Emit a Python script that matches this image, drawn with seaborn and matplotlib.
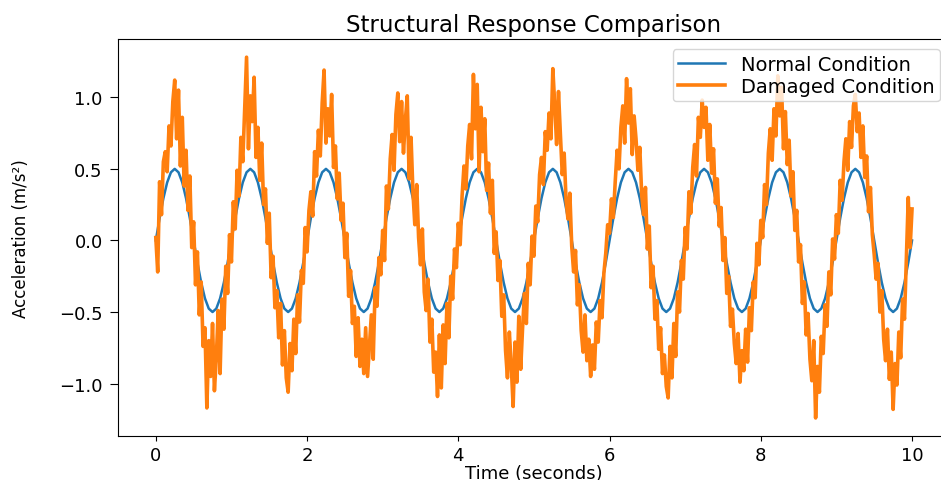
import numpy as np
import pandas as pd
import matplotlib
matplotlib.use("Agg")
import matplotlib.pyplot as plt
import seaborn as sns

# Normal condition, read every 0.05 s
normal_vals = [
    0.0, 0.155, 0.294, 0.405, 0.476, 0.5, 0.476, 0.405, 0.294, 0.155,
    0.0, -0.155, -0.294, -0.405, -0.476, -0.5, -0.476, -0.405, -0.294, -0.155,
    0.0, 0.155, 0.294, 0.405, 0.476, 0.5, 0.476, 0.405, 0.294, 0.155,
    0.0, -0.155, -0.294, -0.405, -0.476, -0.5, -0.476, -0.405, -0.294, -0.155,
    0.0, 0.155, 0.294, 0.405, 0.476, 0.5, 0.476, 0.405, 0.294, 0.155,
    0.0, -0.155, -0.294, -0.405, -0.476, -0.5, -0.476, -0.405, -0.294, -0.155,
    0.0, 0.155, 0.294, 0.405, 0.476, 0.5, 0.476, 0.405, 0.294, 0.155,
    0.0, -0.155, -0.294, -0.405, -0.476, -0.5, -0.476, -0.405, -0.294, -0.155,
    0.0, 0.155, 0.294, 0.405, 0.476, 0.5, 0.476, 0.405, 0.294, 0.155,
    0.0, -0.155, -0.294, -0.405, -0.476, -0.5, -0.476, -0.405, -0.294, -0.155,
    0.0, 0.155, 0.294, 0.405, 0.476, 0.5, 0.476, 0.405, 0.294, 0.155,
    0.0, -0.155, -0.294, -0.405, -0.476, -0.5, -0.476, -0.405, -0.294, -0.155,
    0.0, 0.155, 0.294, 0.405, 0.476, 0.5, 0.476, 0.405, 0.294, 0.155,
    0.0, -0.155, -0.294, -0.405, -0.476, -0.5, -0.476, -0.405, -0.294, -0.155,
    0.0, 0.155, 0.294, 0.405, 0.476, 0.5, 0.476, 0.405, 0.294, 0.155,
    0.0, -0.155, -0.294, -0.405, -0.476, -0.5, -0.476, -0.405, -0.294, -0.155,
    0.0, 0.155, 0.294, 0.405, 0.476, 0.5, 0.476, 0.405, 0.294, 0.155,
    0.0, -0.155, -0.294, -0.405, -0.476, -0.5, -0.476, -0.405, -0.294, -0.155,
    0.0, 0.155, 0.294, 0.405, 0.476, 0.5, 0.476, 0.405, 0.294, 0.155,
    0.0, -0.155, -0.294, -0.405, -0.476, -0.5, -0.476, -0.405, -0.294, -0.155,
    0.0,
]

# Damaged condition, read every 0.025 s (one row per half second)
damaged_vals = [
    0.02, -0.22, 0.41, 0.18, 0.55, 0.62, 0.48, 0.80, 0.66, 0.97, 1.12, 0.71, 1.05, 0.52, 0.86, 0.38, 0.63, 0.21, 0.45, -0.05,
    0.13, -0.31, -0.08, -0.52, -0.29, -0.74, -0.61, -1.17, -0.70, -0.95, -0.58, -1.05, -0.82, -0.49, -0.93, -0.41, -0.62, -0.18, -0.37, 0.04,
    -0.15, 0.27, 0.08, 0.49, 0.31, 0.72, 0.55, 0.91, 1.28, 0.64, 1.01, 0.83, 1.14, 0.58, 0.79, 0.42, 0.68, 0.25, 0.36, -0.02,
    0.19, -0.26, -0.11, -0.47, -0.35, -0.68, -0.44, -0.87, -0.63, -0.96, -1.06, -0.72, -0.91, -0.55, -0.79, -0.38, -0.57, -0.21, -0.30, 0.09,
    -0.08, 0.21, 0.34, 0.17, 0.62, 0.45, 0.77, 0.59, 0.96, 1.19, 0.68, 0.92, 0.73, 1.02, 0.51, 0.66, 0.29, 0.47, 0.14, 0.26,
    -0.12, 0.05, -0.39, -0.21, -0.58, -0.46, -0.81, -0.54, -0.88, -0.69, -0.93, -0.61, -0.95, -0.74, -0.52, -0.83, -0.33, -0.46, -0.12, -0.24,
    0.07, -0.14, 0.38, 0.22, 0.57, 0.74, 0.49, 0.88, 1.03, 0.69, 0.97, 0.61, 0.84, 1.01, 0.43, 0.72, 0.34, 0.11, 0.39, 0.02,
    -0.17, 0.08, -0.36, -0.49, -0.27, -0.71, -0.55, -0.92, -0.78, -1.09, -0.66, -1.03, -0.59, -0.86, -0.44, -0.68, -0.25, -0.41, -0.06, -0.19,
    0.12, -0.03, 0.31, 0.52, 0.36, 0.66, 0.81, 0.57, 1.16, 0.78, 1.09, 0.48, 0.93, 0.62, 0.85, 0.35, 0.54, 0.19, 0.42, -0.09,
    0.06, -0.28, -0.14, -0.53, -0.38, -0.77, -0.96, -0.64, -0.87, -1.16, -0.71, -0.99, -0.53, -0.90, -0.61, -0.37, -0.58, -0.16, -0.31, 0.03,
    -0.11, 0.24, 0.13, 0.46, 0.58, 0.39, 0.76, 0.63, 0.89, 0.71, 1.20, 0.95, 0.67, 1.04, 0.74, 0.46, 0.61, 0.28, 0.15, 0.33,
    -0.04, -0.22, -0.07, -0.45, -0.31, -0.63, -0.78, -0.52, -0.84, -0.69, -0.95, -0.73, -0.90, -0.57, -0.71, -0.42, -0.54, -0.23, -0.09, 0.11,
    0.05, 0.29, 0.16, 0.41, 0.63, 0.50, 0.79, 0.94, 0.68, 1.13, 0.82, 1.06, 0.60, 0.87, 0.71, 0.49, 0.65, 0.32, 0.18, 0.37,
    -0.06, 0.10, -0.33, -0.18, -0.55, -0.42, -0.76, -0.61, -0.93, -0.80, -1.02, -1.10, -0.74, -0.96, -0.58, -0.81, -0.36, -0.50, -0.14, -0.27,
    0.09, -0.06, 0.34, 0.19, 0.51, 0.67, 0.45, 0.86, 0.72, 0.98, 0.79, 0.93, 0.56, 0.81, 0.47, 0.64, 0.26, 0.43, 0.10, 0.23,
    -0.14, 0.02, -0.37, -0.25, -0.60, -0.48, -0.72, -0.86, -0.65, -0.99, -0.77, -0.91, -0.62, -0.85, -0.47, -0.63, -0.29, -0.40, -0.02, -0.17,
    0.14, 0.02, 0.39, 0.25, 0.61, 0.78, 0.56, 0.92, 0.73, 1.15, 0.87, 1.07, 0.64, 0.90, 0.53, 0.70, 0.31, 0.48, 0.07, 0.21,
    -0.15, -0.03, -0.44, -0.29, -0.66, -0.51, -0.83, -0.98, -0.70, -1.24, -0.88, -1.06, -0.67, -0.79, -0.45, -0.60, -0.22, -0.38, 0.01, -0.13,
    0.18, 0.05, 0.42, 0.28, 0.55, 0.71, 0.49, 0.83, 0.65, 0.94, 1.02, 0.76, 0.89, 0.58, 0.80, 0.44, 0.59, 0.20, 0.37, 0.04,
    -0.10, -0.27, -0.16, -0.50, -0.35, -0.69, -0.84, -0.62, -0.97, -0.78, -1.18, -0.86, -1.01, -0.64, -0.82, -0.41, -0.55, -0.12, 0.30, -0.05,
    0.22,
]

t_normal = np.linspace(0, 10, len(normal_vals))
t_damaged = np.linspace(0, 10, len(damaged_vals))

normal_df = pd.DataFrame({"time": t_normal, "acc": normal_vals})
damaged_df = pd.DataFrame({"time": t_damaged, "acc": damaged_vals})

fig = plt.figure(figsize=(9.41, 4.81), dpi=100)
# axes run a little past the right edge, as in the reference crop
ax = fig.add_axes([0.1254, 0.0915, 0.884, 0.825])

sns.lineplot(data=normal_df, x="time", y="acc", color="#1f77b4", linewidth=1.8,
             label="Normal Condition", ax=ax, estimator=None, sort=False)
sns.lineplot(data=damaged_df, x="time", y="acc", color="#ff7f0e", linewidth=2.6,
             label="Damaged Condition", ax=ax, estimator=None, sort=False)

ax.set_title("Structural Response Comparison", fontsize=16.5)
ax.set_xlabel("Time (seconds)", fontsize=13, labelpad=0)
ax.set_ylabel("Acceleration (m/s²)", fontsize=12)
ax.yaxis.set_label_coords(-0.106, 0.5)
ax.tick_params(labelsize=13)
ax.tick_params(axis="y", length=6, pad=5)
ax.legend(loc="upper right", fontsize=14, labelspacing=0.15, borderpad=0.3,
          handlelength=2.4)

fig.savefig("out.png", dpi=100)
